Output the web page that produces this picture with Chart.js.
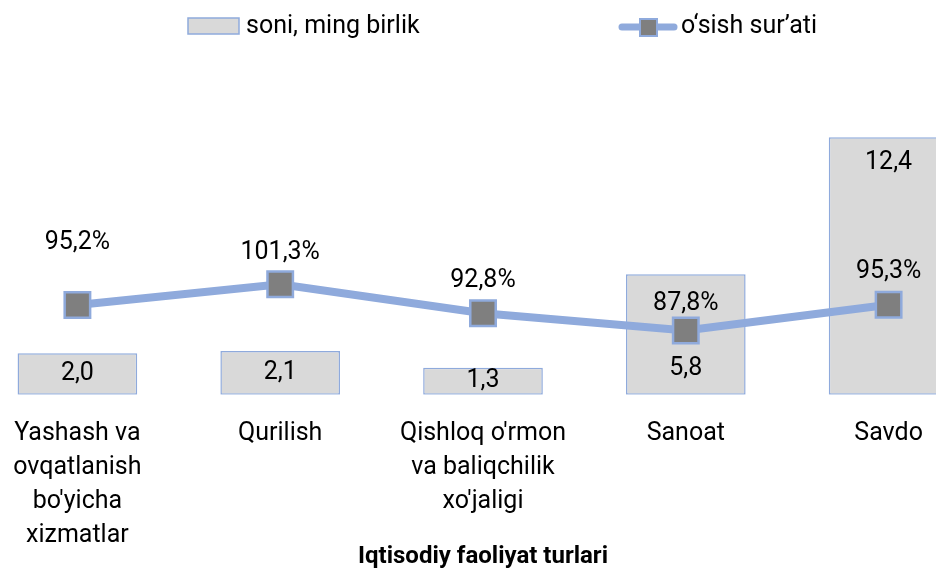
<!DOCTYPE html>
<html>
<head>
<meta charset="utf-8">
<script src="https://cdn.jsdelivr.net/npm/chart.js@4.4.0/dist/chart.umd.min.js"></script>
<style>
  html, body { margin: 0; padding: 0; background: #fff; overflow: hidden; }
  #wrap { position: relative; width: 936px; height: 571px; overflow: hidden; }
  /* plot area is wider than the picture, the left and right edges are cut off */
  #chart { position: absolute; left: -24px; top: 0; }
</style>
</head>
<body>
<div id="wrap"><canvas id="chart" width="1014" height="571"></canvas></div>
<script>
const categories = [
  ["Yashash va", "ovqatlanish", "bo'yicha", "xizmatlar"],
  "Qurilish",
  ["Qishloq o'rmon", "va baliqchilik", "xo'jaligi"],
  "Sanoat",
  "Savdo"
];
const countValues = [2.0, 2.1, 1.3, 5.8, 12.4];
const growthValues = [95.2, 101.3, 92.8, 87.8, 95.3];
const seriesNames = ["soni, ming birlik", "o‘sish sur’ati"];
const axisTitle = "Iqtisodiy faoliyat turlari";

const barFill = "#D9D9D9";
const barBorder = "#8FAADC";
const lineColor = "#8FAADC";
const markerFill = "#7F7F7F";
const font = "Roboto";

const fmt = v => v.toFixed(1).replace(".", ",");

// value labels (no datalabels plugin available)
const valueLabels = {
  id: "valueLabels",
  afterDatasetsDraw(chart, args, opts) {
    const ctx = chart.ctx;
    ctx.save();
    ctx.font = `25px ${font}`;
    ctx.fillStyle = "#000";
    ctx.textAlign = "center";
    ctx.textBaseline = "middle";
    chart.getDatasetMeta(0).data.forEach((bar, i) => {
      let y = (bar.y + bar.base) / 2;
      if (opts.barPos[i] === "end") y = bar.y + 26;
      if (opts.barPos[i] === "base") y = bar.base - 26;
      ctx.fillText(fmt(countValues[i]), bar.x, y);
    });
    chart.getDatasetMeta(1).data.forEach((pt, i) => {
      ctx.fillText(fmt(growthValues[i]) + "%", pt.x, pt.y - opts.lineOffset[i]);
    });
    ctx.restore();
  }
};

// legend drawn by hand: wide gap between the two entries
const topLegend = {
  id: "topLegend",
  afterDraw(chart) {
    const ctx = chart.ctx;
    const y = 26;
    ctx.save();
    ctx.font = `25px ${font}`;
    ctx.textBaseline = "middle";
    ctx.textAlign = "left";

    ctx.fillStyle = barFill;
    ctx.fillRect(212, 18, 51, 16);
    ctx.strokeStyle = barBorder;
    ctx.lineWidth = 1.5;
    ctx.strokeRect(212, 18, 51, 16);
    ctx.fillStyle = "#000";
    ctx.fillText(seriesNames[0], 270, y + 1);

    ctx.strokeStyle = lineColor;
    ctx.lineWidth = 7;
    ctx.lineCap = "round";
    ctx.beginPath();
    ctx.moveTo(646, y + 1);
    ctx.lineTo(698, y + 1);
    ctx.stroke();
    ctx.fillStyle = markerFill;
    ctx.fillRect(664, y - 7, 17, 17);
    ctx.lineWidth = 2;
    ctx.strokeRect(664, y - 7, 17, 17);
    ctx.fillStyle = "#000";
    ctx.fillText(seriesNames[1], 705, y + 1);
    ctx.restore();
  }
};

new Chart(document.getElementById("chart"), {
  type: "bar",
  data: {
    labels: categories,
    datasets: [
      {
        type: "bar",
        label: seriesNames[0],
        data: countValues,
        yAxisID: "y",
        backgroundColor: barFill,
        borderColor: barBorder,
        borderWidth: 1.5,
        borderSkipped: false,
        barPercentage: 0.59,
        categoryPercentage: 1,
        order: 2
      },
      {
        type: "line",
        label: seriesNames[1],
        data: growthValues,
        yAxisID: "y1",
        borderColor: lineColor,
        borderWidth: 8,
        pointStyle: "rect",
        pointRadius: 18,
        pointHoverRadius: 18,
        pointBackgroundColor: markerFill,
        pointBorderColor: lineColor,
        pointBorderWidth: 2.5,
        tension: 0,
        order: 1
      }
    ]
  },
  options: {
    responsive: false,
    animation: false,
    devicePixelRatio: 1,
    layout: { padding: { top: 104, bottom: 0, left: 0, right: 0 }, autoPadding: false },
    plugins: {
      legend: { display: false },
      tooltip: { enabled: false },
      valueLabels: {
        barPos: ["center", "center", "center", "base", "end"],
        lineOffset: [62, 31, 33, 27, 33]
      }
    },
    scales: {
      x: {
        grid: { display: false, drawTicks: false },
        border: { display: false },
        ticks: {
          color: "#000",
          font: { family: font, size: 25, lineHeight: 1.36 },
          padding: 22,
          maxRotation: 0,
          autoSkip: false
        },
        title: {
          display: true,
          text: axisTitle,
          color: "#000",
          font: { family: font, size: 24, weight: "bold" },
          padding: { top: -32.5, bottom: 0 }
        }
      },
      y: { display: false, min: 0, max: 14 },
      y1: { display: false, position: "right", min: 69, max: 154 }
    }
  },
  plugins: [valueLabels, topLegend]
});
</script>
</body>
</html>
